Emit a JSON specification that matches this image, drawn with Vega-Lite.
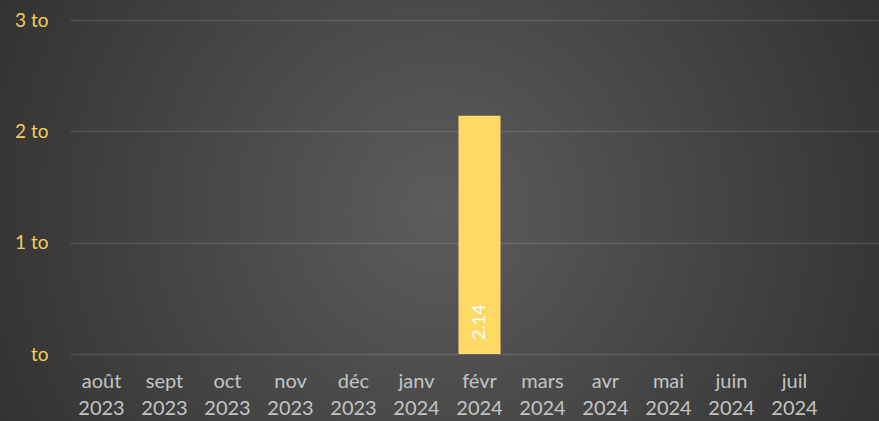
{
  "$schema": "https://vega.github.io/schema/vega-lite/v6.json",
  "width": 879,
  "height": 421,
  "autosize": "none",
  "padding": 0,
  "background": "#2a2a2a",
  "config": {
    "view": {
      "stroke": null,
      "fill": {
        "gradient": "radial",
        "x1": 0.5, "y1": 0.5, "r1": 0,
        "x2": 0.5, "y2": 0.5, "r2": 0.72,
        "stops": [
          {"offset": 0, "color": "#5c5c5c"},
          {"offset": 1, "color": "#262626"}
        ]
      }
    },
    "font": "Lato"
  },
  "data": {
    "values": [
      {"month": "août 2023", "value": null},
      {"month": "sept 2023", "value": null},
      {"month": "oct 2023", "value": null},
      {"month": "nov 2023", "value": null},
      {"month": "déc 2023", "value": null},
      {"month": "janv 2024", "value": null},
      {"month": "févr 2024", "value": 2.14},
      {"month": "mars 2024", "value": null},
      {"month": "avr 2024", "value": null},
      {"month": "mai 2024", "value": null},
      {"month": "juin 2024", "value": null},
      {"month": "juil 2024", "value": null}
    ]
  },
  "encoding": {
    "x": {
      "field": "month",
      "type": "nominal",
      "sort": null,
      "scale": {
        "domain": ["août 2023", "sept 2023", "oct 2023", "nov 2023", "déc 2023", "janv 2024", "févr 2024", "mars 2024", "avr 2024", "mai 2024", "juin 2024", "juil 2024", "_"],
        "range": [70, 889],
        "paddingInner": 0.333,
        "paddingOuter": 0.1667
      },
      "axis": {
        "title": null,
        "offset": -67,
        "domain": false,
        "ticks": false,
        "grid": false,
        "labelAngle": 0,
        "labelExpr": "datum.label == '_' ? '' : split(datum.label, ' ')",
        "labelFontSize": 20,
        "labelLineHeight": 27,
        "labelColor": "#c4c4c4",
        "labelPadding": 17
      }
    },
    "y": {
      "field": "value",
      "type": "quantitative",
      "scale": {"domain": [0, 3], "range": [354, 20], "nice": false},
      "axis": {
        "title": null,
        "offset": -70,
        "values": [0, 1, 2, 3],
        "domain": false,
        "ticks": false,
        "labelExpr": "datum.value == 0 ? 'to' : datum.value + ' to'",
        "labelFontSize": 19,
        "labelColor": "#f5cd5a",
        "labelPadding": 22,
        "gridColor": "#ffffff",
        "gridOpacity": 0.12,
        "gridWidth": 1.5
      }
    }
  },
  "layer": [
    {
      "mark": {"type": "bar", "color": "#ffd966"}
    },
    {
      "mark": {
        "type": "text",
        "angle": 270,
        "align": "left",
        "baseline": "middle",
        "dx": 14,
        "color": "#ffffff",
        "fontSize": 18
      },
      "encoding": {
        "y": {"datum": 0, "type": "quantitative"},
        "text": {"field": "value", "type": "quantitative", "format": ".2f"}
      },
      "transform": [{"filter": "datum.value != null"}]
    }
  ]
}
